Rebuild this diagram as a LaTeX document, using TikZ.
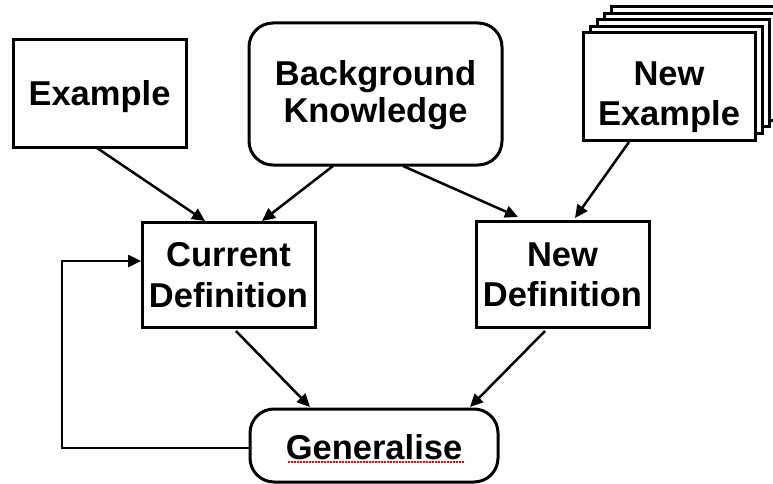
\documentclass[tikz,border=0pt]{standalone}
\usepackage{fontspec}
\setmainfont{Liberation Sans}
\usetikzlibrary{arrows.meta}
\begin{document}
\begin{tikzpicture}[x=1pt,y=-1pt,
  box/.style={draw,line width=3pt,fill=white,align=center,inner sep=0pt,text depth=0pt},
  ls/.style={font=\fontsize{34.5}{#1}\selectfont\bfseries},
  rbox/.style={box,rounded corners=24pt},
  sheet/.style={draw,line width=3pt,fill=white},
  conn/.style={line width=2.5pt,-{Triangle[length=13pt,width=12pt]}}]
\useasboundingbox (0,0) rectangle (773,484);
% stacked sheets behind New Example
\foreach \i in {4,3,2,1}{
  \path[sheet] (583+7*\i,33-6.5*\i) rectangle (755+7*\i,140-6.5*\i);
}
\node[box,ls=40,text height=24.7pt,minimum width=173pt,minimum height=107pt] (ex) at (99.5,93.5) {Example};
\node[rbox,ls=37,text height=57.7pt,minimum width=253pt,minimum height=142pt] (bk) at (375.5,94) {Background\\Knowledge};
\node[box,ls=40,text height=78.7pt,minimum width=172pt,minimum height=107pt] (nex) at (669,86.5) {New\\Example};
\node[box,ls=41.5,text height=66pt,minimum width=173pt,minimum height=105pt] (cur) at (228.5,274.5) {Current\\Definition};
\node[box,ls=40,text height=64.7pt,minimum width=173pt,minimum height=106pt] (nd) at (562.5,274) {New\\Definition};
\node[rbox,ls=40,text height=27.7pt,minimum width=248pt,minimum height=73pt] (gen) at (374,445.5) {Generalise};
% spell-check underline
\coordinate (ul1) at (288,462);
\coordinate (ul2) at (465,462);
\draw[red,line width=1.3pt,dash pattern=on 1.5pt off 1.5pt] (ul1) -- (ul2);
% connectors
\coordinate (a1) at (97,148);
\coordinate (a1e) at (205,221);
\draw[conn] (a1) -- (a1e);
\coordinate (a2) at (333,166);
\coordinate (a2e) at (262,221);
\draw[conn] (a2) -- (a2e);
\coordinate (a3) at (403,166);
\coordinate (a3e) at (518,217);
\draw[conn] (a3) -- (a3e);
\coordinate (a4) at (629,142);
\coordinate (a4e) at (575,218);
\draw[conn] (a4) -- (a4e);
\coordinate (a5) at (236,331);
\coordinate (a5e) at (310,407);
\draw[conn] (a5) -- (a5e);
\coordinate (a6) at (545,331);
\coordinate (a6e) at (470,407);
\draw[conn] (a6) -- (a6e);
\coordinate (lp) at (62,448);
\coordinate (cin) at (141,261);
\draw[conn] (gen.west |- lp) -- (lp) |- (cin);
\end{tikzpicture}
\end{document}
